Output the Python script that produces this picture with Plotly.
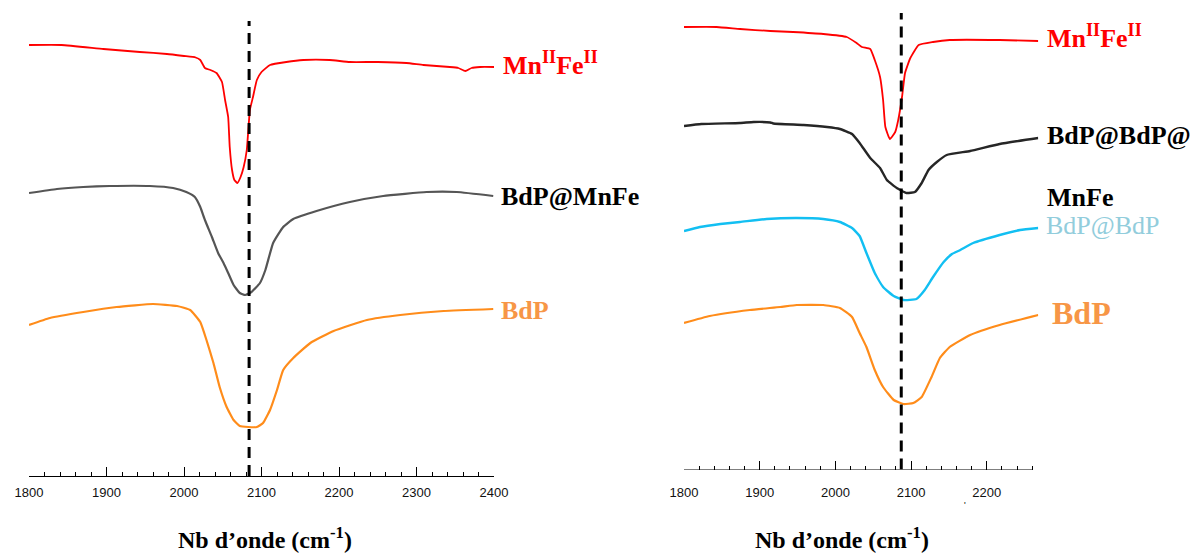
import plotly.graph_objects as go

# ---------------- data (y in arbitrary offset units) ----------------
# Left panel
L_red_w = [1800,1842,1896,1943,1978,2000,2015,2021,2027,2034,2042,2049,2053,2057,2059,2062,2065,2069,2073,2077,2081,2083,2085,2089,2094,2100,2111,2132,2154,2188,2214,2250,2287,2309,2343,2354,2363,2371,2382,2401]
L_red_v = [431,431,427,424,422,420,418.5,416,408,406,403,394,376,359,329,306,296,293,299,309,326,346,366,379,396,404,411,414,416,416,414,414,413,411,409,408,405,408,409,409]

L_gray_w = [1800,1836,1870,1904,1956,1986,2003,2014,2021,2027,2036,2044,2051,2057,2064,2072,2079,2087,2098,2105,2115,2128,2141,2171,2214,2257,2313,2352,2399]
L_gray_v = [283,287,289,290,290,288,284,279,269,256,239,223,213,203,191,183,181,184,193,206,233,249,257,265,274,280,284,284,280]

L_orange_w = [1800,1827,1870,1913,1960,1991,2008,2021,2029,2038,2046,2055,2064,2072,2083,2094,2102,2111,2120,2128,2141,2163,2193,2236,2279,2335,2399]
L_orange_v = [151,158,164,169,172,170,166,154,136,113,89,69,56,50,49,49,53,66,86,106,118,133,145,156,161,165,167]

# Right panel
R_red_w = [1800,1843,1874,1914,1944,1984,2015,2028,2035,2046,2052,2059,2063,2066,2072,2079,2083,2088,2092,2099,2110,2129,2151,2217,2268]
R_red_v = [442.5,442.5,440.5,438.5,437.5,435.5,432.5,426.5,422.5,420.5,409.5,392.5,369.5,342.5,330.5,337.5,349.5,372.5,396.5,411.5,424.5,427.5,429.5,429.5,428.5]

R_black_w = [1800,1823,1874,1892,1914,1918,1958,1989,2006,2022,2032,2046,2059,2068,2081,2094,2105,2114,2123,2134,2147,2178,2217,2268]
R_black_v = [343.5,345.5,346.5,347.5,347,346,344.5,342.5,340.5,335.5,326.5,311.5,301.5,289.5,281.5,276.5,277.5,286.5,299.5,307.5,314.5,318.5,325.5,331.5]

R_cyan_w = [1800,1821,1848,1874,1909,1949,1984,2006,2022,2032,2041,2052,2063,2077,2090,2107,2118,2129,2143,2154,2165,2182,2217,2244,2268]
R_cyan_v = [238.5,242.5,245.5,247.5,250.5,251.5,250.5,247.5,241.5,233.5,216.5,196.5,182.5,173.5,169.5,170.5,179.5,192.5,207.5,215.5,219.5,226.5,234.5,239.5,241.5]

R_orange_w = [1800,1834,1887,1927,1949,1984,2006,2022,2032,2041,2052,2063,2077,2090,2103,2114,2127,2138,2151,2178,2217,2268]
R_orange_v = [146.5,153.5,159.5,162.5,164.5,164.5,161.5,152.5,136.5,122.5,99.5,82.5,69.5,65.5,66.5,72.5,92.5,111.5,122.5,134.5,144.5,154.5]

L_dash_x = 2084
R_dash_x = 2087
tick_vals = [1800, 1900, 2000, 2100, 2200, 2300, 2400]

# ---------------- figure ----------------
W, H = 1192, 553
fig = go.Figure()

def add(w, v, color, width, xa, ya):
    fig.add_trace(go.Scatter(x=w, y=v, mode="lines", xaxis=xa, yaxis=ya,
                             line=dict(color=color, width=width, shape="spline", smoothing=0.4),
                             showlegend=False, hoverinfo="skip"))

add(L_red_w, L_red_v, "#FF0000", 1.8, "x", "y")
add(L_gray_w, L_gray_v, "#555555", 2.2, "x", "y")
add(L_orange_w, L_orange_v, "#FF8C1A", 2.2, "x", "y")
add(R_red_w, R_red_v, "#FF0000", 1.8, "x2", "y2")
add(R_black_w, R_black_v, "#262626", 2.4, "x2", "y2")
add(R_cyan_w, R_cyan_v, "#12BFF2", 2.4, "x2", "y2")
add(R_orange_w, R_orange_v, "#FF8C1A", 2.2, "x2", "y2")

L_base, R_base = 476, 469.5
axis_common = dict(showgrid=False, zeroline=False, automargin=False,
                   ticks="inside", ticklen=9, tickwidth=1,
                   tickcolor="black", tickvals=tick_vals,
                   tickfont=dict(family="Liberation Sans, Arial", size=13, color="#111"),
                   minor=dict(ticks="inside", ticklen=4, tickwidth=1, tickcolor="black", dtick=20, tick0=1800))

fig.update_layout(
    template="none",
    width=W, height=H, margin=dict(l=0, r=0, t=0, b=0, pad=0),
    paper_bgcolor="white", plot_bgcolor="rgba(0,0,0,0)",
    xaxis=dict(domain=[29/W, 494/W], range=[1800, 2400], anchor="y",
               showline=True, linecolor="black", linewidth=1, ticklabelstandoff=4, **axis_common),
    yaxis=dict(domain=[1 - L_base/H, 1], range=[0, L_base], visible=False, automargin=False),
    xaxis2=dict(domain=[684/W, (684 + 468*0.757)/W], range=[1800, 2268], anchor="y2",
                showline=False, ticklabelstandoff=13, **axis_common),
    yaxis2=dict(domain=[1 - R_base/H, 1], range=[0, R_base], visible=False, automargin=False),
)

# axis line of right panel ends at 2260
fig.add_shape(type="line", xref="x2", yref="y2", x0=1800, x1=2260, y0=0, y1=0,
              line=dict(color="black", width=1))
# dashed reference lines
fig.add_shape(type="line", xref="x", yref="y", x0=L_dash_x, x1=L_dash_x, y0=0, y1=L_base - 21,
              line=dict(color="black", width=3, dash="11px,7px"))
fig.add_shape(type="line", xref="x2", yref="y2", x0=R_dash_x, x1=R_dash_x, y0=0, y1=R_base - 13,
              line=dict(color="black", width=3, dash="11px,7px"))

serif = "Liberation Serif, Times New Roman, serif"

def label(text, px, py, color, size=26, bold=True, anchor="left"):
    t = f"<b>{text}</b>" if bold else text
    fig.add_annotation(text=t, xref="paper", yref="paper", x=px/W, y=1 - py/H,
                       xanchor=anchor, yanchor="middle", showarrow=False,
                       font=dict(family=serif, size=size, color=color))

label("Mn<sup>II</sup>Fe<sup>II</sup>", 501, 64, "#FF0000")
label("BdP@MnFe", 499, 197, "#000000")
label("BdP", 499, 310, "#F79646")
label("Mn<sup>II</sup>Fe<sup>II</sup>", 1045, 37, "#FF0000")
label("BdP@BdP@", 1045, 135, "#000000")
label("MnFe", 1045, 198, "#000000")
label("BdP@BdP", 1044, 225, "#92CDDC", bold=False)
label("BdP", 1050, 313, "#F79646", size=32)

label("Nb d’onde (cm<sup>-1</sup>)", 265, 538, "#000000", size=24, anchor="center")
label("Nb d’onde (cm<sup>-1</sup>)", 842, 538, "#000000", size=24, anchor="center")
fig.add_annotation(text="'", xref="paper", yref="paper", x=968/W, y=1 - 512/H, showarrow=False,
                   font=dict(family="Liberation Sans", size=9, color="black"))

fig.write_html("out.html", config={"displayModeBar": False},
               post_script="document.body.style.margin='0';document.body.style.overflow='hidden';")
